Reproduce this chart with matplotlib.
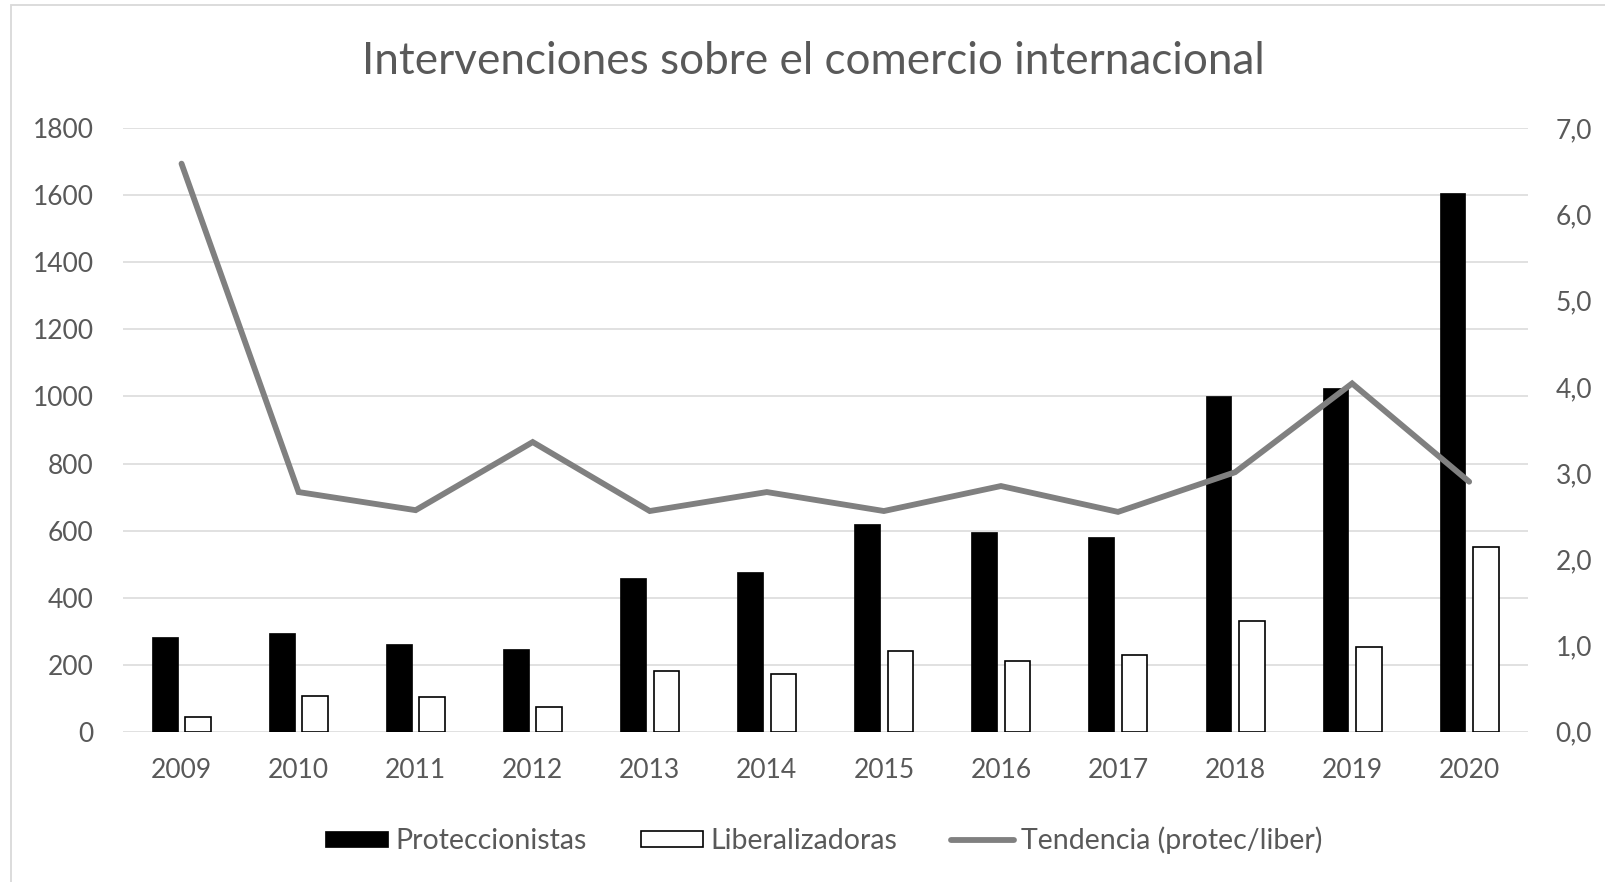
import matplotlib
matplotlib.use("Agg")
import matplotlib.pyplot as plt
from matplotlib.patches import Rectangle
from matplotlib.ticker import FuncFormatter, MultipleLocator
import numpy as np

# ── Data ─────────────────────────────────────────────────────────────────────
years = ["2009", "2010", "2011", "2012", "2013", "2014",
         "2015", "2016", "2017", "2018", "2019", "2020"]
proteccionistas = [283, 293, 263, 248, 459, 477, 619, 597, 580, 1000, 1024, 1608]
liberalizadoras = [43, 106, 103, 75, 180, 172, 242, 210, 228, 331, 254, 552]
tendencia = [6.59, 2.78, 2.57, 3.36, 2.56, 2.78, 2.56, 2.85, 2.55, 3.01, 4.04, 2.90]

# ── Style ────────────────────────────────────────────────────────────────────
TEXT = "#595959"
GRID = "#d9d9d9"
LINE = "#808080"
plt.rcParams["font.family"] = ["Lato", "DejaVu Sans"]

W, H = 1606, 882
fig = plt.figure(figsize=(W / 100, H / 100), dpi=100)
fig.patch.set_facecolor("white")

# chart border (only the top and left edges fall inside the picture)
fig.patches.append(Rectangle((11 / W, -0.1), 2.0, 1.1 - 5 / H,
                             transform=fig.transFigure, fill=False,
                             edgecolor=GRID, linewidth=1.3))

ax = fig.add_axes([123 / W, 1 - 731.7 / H, (1527.7 - 123) / W, (731.7 - 128.3) / H])
x = np.arange(len(years))
bw = 0.22
off = 0.142

ax.bar(x - off, proteccionistas, bw, color="black", edgecolor="black",
       linewidth=0.5, zorder=3, label="Proteccionistas")
ax.bar(x + off, liberalizadoras, bw, color="white", edgecolor="black",
       linewidth=1.2, zorder=3, label="Liberalizadoras")

ax.set_xlim(-0.5, len(years) - 0.5)
ax.set_ylim(0, 1800)
ax.yaxis.set_major_locator(MultipleLocator(200))
ax.set_xticks(x)
ax.set_xticklabels(years)
ax.grid(axis="y", color=GRID, linewidth=1.1, zorder=0)
ax.set_axisbelow(True)
ax.tick_params(axis="x", length=0, pad=19, labelsize=19, labelcolor=TEXT)
ax.tick_params(axis="y", length=0, pad=21, labelsize=19, labelcolor=TEXT)
for s in ax.spines.values():
    s.set_visible(False)

ax2 = ax.twinx()
ax2.plot(x, tendencia, color=LINE, linewidth=4.2, solid_capstyle="round",
         solid_joinstyle="miter", zorder=4, label="Tendencia (protec/liber)")
ax2.set_ylim(0, 7)
ax2.yaxis.set_major_locator(MultipleLocator(1))
ax2.yaxis.set_major_formatter(FuncFormatter(lambda v, _: f"{v:.1f}".replace(".", ",")))
ax2.tick_params(axis="y", length=0, pad=20, labelsize=19, labelcolor=TEXT)
for s in ax2.spines.values():
    s.set_visible(False)

fig.text(813.5 / W, 1 - 74 / H, "Intervenciones sobre el comercio internacional",
         ha="center", va="baseline", fontsize=31.7, color=TEXT)

h1, l1 = ax.get_legend_handles_labels()
h2, l2 = ax2.get_legend_handles_labels()
fig.legend(h1 + h2, l1 + l2, loc="center", bbox_to_anchor=(0.513, 1 - 840 / H),
           ncol=3, frameon=False, fontsize=20.5, labelcolor=TEXT,
           handlelength=2.2, handleheight=0.5, handletextpad=0.25,
           columnspacing=1.9)

fig.savefig("out.png", dpi=100, facecolor="white")
